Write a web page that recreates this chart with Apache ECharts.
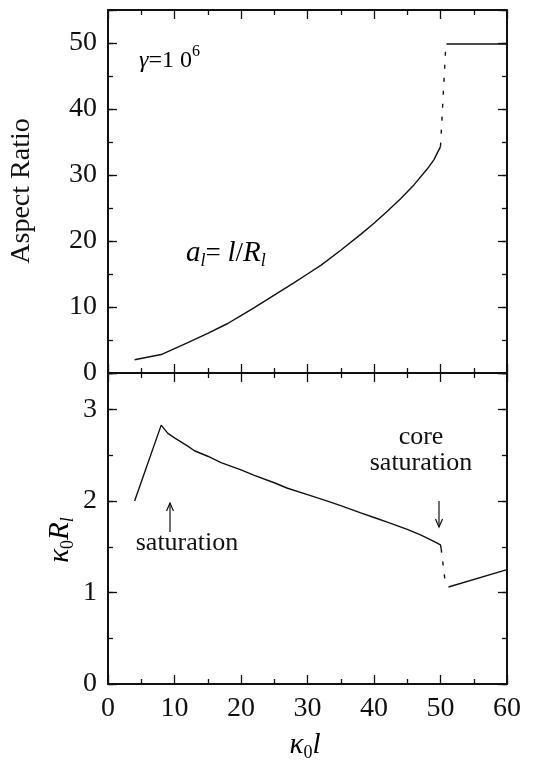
<!DOCTYPE html>
<html><head><meta charset="utf-8">
<script src="https://cdn.jsdelivr.net/npm/echarts@6/dist/echarts.min.js"></script>
<style>html,body{margin:0;padding:0;background:#fff}#c{width:535px;height:761px}</style>
</head><body><div id="c"></div>
<script>
// ---- data ----
const xTicks = [0,10,20,30,40,50,60];
const klTop = [4,8,10,12,15,18,20,22,25,28,30,32,35,38,40,42,44,46,48,49,50];
const aspect = [2.0,2.8,3.7,4.6,6.0,7.5,8.7,9.9,11.8,13.7,15.0,16.3,18.6,21.0,22.7,24.5,26.4,28.5,30.9,32.3,34.3];
const jumpTopX = [50,50.8], jumpTopY = [34.3,49.6];
const coreTopX = [50.9,60], coreTopY = [49.85,49.85];
const klBot = [4,8,9,10,12,13,15,17,20,22,25,27,30,33,35,38,40,42,45,47,49,50,50.1];
const kR = [2.0,2.83,2.74,2.69,2.60,2.55,2.49,2.42,2.34,2.28,2.20,2.14,2.07,2.00,1.95,1.87,1.82,1.77,1.69,1.63,1.56,1.52,1.48];
const jumpBotX = [50.1,50.7], jumpBotY = [1.48,1.12];
const coreBotX = [51.2,60], coreBotY = [1.06,1.25];

const pair = (xs, ys) => xs.map((x,i)=>[x, ys[i]]);
const SERIF = '"Liberation Serif","Times New Roman",serif';
const BLACK = '#111';

const chart = echarts.init(document.getElementById('c'), null, {renderer:'canvas'});

function xAx(grid, pos, labels){
  return {type:'value', gridIndex:grid, position:pos, min:0, max:60, interval:10,
    axisLine:{show:true, onZero:false, lineStyle:{color:BLACK, width:2}},
    axisTick:{show:true, inside:true, length:9, lineStyle:{color:BLACK, width:1.3}},
    minorTick:{show:true, splitNumber:2, length:5, lineStyle:{color:BLACK, width:1.3}},
    splitLine:{show:false}, minorSplitLine:{show:false},
    axisLabel:{show:labels, margin:11, color:BLACK, fontFamily:SERIF, fontSize:28}};
}
function yAx(grid, pos, max, interval, long, labels){
  return {type:'value', gridIndex:grid, position:pos, min:0, max:max, interval:interval,
    axisLine:{show:long, onZero:false, lineStyle:{color:BLACK, width:2}},
    axisTick:{show:true, inside:true, length: long?9:5, lineStyle:{color:BLACK, width:1.3}},
    splitLine:{show:false},
    axisLabel:{show:labels, margin:11, color:BLACK, fontFamily:SERIF, fontSize:28,
      formatter: v => (Math.abs(v/interval - Math.round(v/interval))<1e-6) ? String(v) : ''}};
}

const lineS = (xa, ya, data, dashed) => ({type:'line', xAxisIndex:xa, yAxisIndex:ya, data:data,
  showSymbol:false, symbol:'none', silent:true, animation:false,
  lineStyle:{color:BLACK, width:1.4, type: dashed ? [4,9] : 'solid'}});

const rich = {
  n:{fontFamily:SERIF, fontSize:27, color:BLACK, lineHeight:34},
  i:{fontFamily:SERIF, fontSize:29, fontStyle:'italic', color:BLACK, lineHeight:34},
  sub:{fontFamily:SERIF, fontSize:18, fontStyle:'italic', color:BLACK, verticalAlign:'bottom', lineHeight:17},
  sub0:{fontFamily:SERIF, fontSize:18, color:BLACK, verticalAlign:'bottom', lineHeight:17},
  sup:{fontFamily:SERIF, fontSize:16, color:BLACK, verticalAlign:'top', lineHeight:14},
  g:{fontFamily:SERIF, fontSize:24, fontStyle:'italic', color:BLACK, lineHeight:34},
  g2:{fontFamily:SERIF, fontSize:24, color:BLACK, lineHeight:34}
};

function arrow(x, y1, y2){ // y1 tail, y2 tip
  const d = y2 > y1 ? -1 : 1;
  return [
    {type:'line', shape:{x1:x, y1:y1, x2:x, y2:y2}, style:{stroke:BLACK, lineWidth:1.2}},
    {type:'polyline', shape:{points:[[x-3.5, y2+d*8],[x,y2],[x+3.5,y2+d*8]]}, style:{stroke:BLACK, lineWidth:1.2, fill:null}}
  ];
}

chart.setOption({
  animation:false,
  backgroundColor:'#fff',
  grid:[
    {left:108, right:28, top:10, height:363},
    {left:108, right:28, top:373, height:311}
  ],
  xAxis:[ xAx(0,'bottom',false), xAx(0,'top',false), xAx(1,'bottom',true), xAx(1,'top',false) ],
  yAxis:[
    yAx(0,'left',55,10,true,true), yAx(0,'left',55,5,false,false),
    yAx(0,'right',55,10,true,false), yAx(0,'right',55,5,false,false),
    yAx(1,'left',3.4,1,true,true), yAx(1,'left',3.4,0.5,false,false),
    yAx(1,'right',3.4,1,true,false), yAx(1,'right',3.4,0.5,false,false)
  ],
  series:[
    lineS(0,0,pair(klTop,aspect),false),
    lineS(0,0,pair(jumpTopX,jumpTopY),true),
    lineS(0,0,pair(coreTopX,coreTopY),false),
    lineS(2,4,pair(klBot,kR),false),
    lineS(2,4,pair(jumpBotX,jumpBotY),true),
    lineS(2,4,pair(coreBotX,coreBotY),false)
  ],
  graphic:[
    {type:'text', left:139, top:44, style:{text:'{g|γ}{g2|=1 0}{sup|6}', rich:rich}},
    {type:'text', left:186, top:239, style:{text:'{i|a}{sub|l}{n|= }{i|l}{n|/}{i|R}{sub|l}', rich:rich}},
    {type:'text', x:22, y:191, rotation:Math.PI/2, style:{text:'Aspect Ratio', fontFamily:SERIF, fontSize:28, fill:BLACK, align:'center', verticalAlign:'middle'}},
    {type:'text', x:60, y:540, rotation:Math.PI/2, style:{text:'{i|κ}{sub0|0}{i|R}{sub|l}', rich:rich, align:'center', verticalAlign:'middle'}},
    {type:'text', x:305, y:745, style:{text:'{i|κ}{sub0|0}{i|l}', rich:rich, align:'center', verticalAlign:'middle'}},
    {type:'text', x:187, y:543, style:{text:'saturation', fontFamily:SERIF, fontSize:26, fill:BLACK, align:'center', verticalAlign:'middle'}},
    {type:'text', x:421, y:437, style:{text:'core', fontFamily:SERIF, fontSize:26, fill:BLACK, align:'center', verticalAlign:'middle'}},
    {type:'text', x:421, y:463, style:{text:'saturation', fontFamily:SERIF, fontSize:26, fill:BLACK, align:'center', verticalAlign:'middle'}},
    ...arrow(170, 532, 503),
    ...arrow(439, 501, 527)
  ]
});
</script></body></html>
